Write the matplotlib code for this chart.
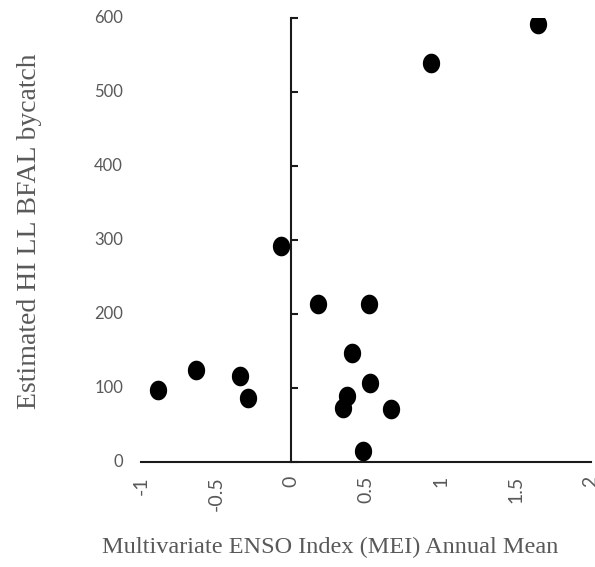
import matplotlib
matplotlib.use("Agg")
import matplotlib.pyplot as plt
import numpy as np
from matplotlib.path import Path

# MEI annual mean vs estimated bycatch
mei = [-0.885, -0.633, -0.338, -0.285, -0.069, 0.182, 0.52, 0.405,
       0.371, 0.349, 0.527, 0.665, 0.482, 0.933, 1.649]
bycatch = [97, 124, 116, 86, 292, 214, 213, 147,
           90, 73, 107, 72, 15, 539, 592]

x_ticks = [-1, -0.5, 0, 0.5, 1, 1.5, 2]
x_tick_labels = ["-1", "-0.5", "0", "0.5", "1", "1.5", "2"]
y_ticks = [0, 100, 200, 300, 400, 500, 600]

text_grey = "#595959"
serif = ["Liberation Serif", "DejaVu Serif"]
sans = ["Lato", "DejaVu Sans"]

# slightly tall ellipse like the Excel marker
t = np.linspace(0, 2 * np.pi, 60)
ellipse = Path(np.column_stack([0.88 * np.cos(t), np.sin(t)]))

fig = plt.figure(figsize=(5.95, 5.67), dpi=100)
ax = fig.add_axes([0.237, 0.185, 0.756, 0.783])

ax.scatter(mei, bycatch, s=200, marker=ellipse, color="black", linewidths=0, zorder=3)

ax.set_xlim(-1, 2)
ax.set_ylim(0, 600)

for side in ["top", "right"]:
    ax.spines[side].set_visible(False)
ax.spines["left"].set_position(("data", 0))
ax.spines["left"].set_linewidth(1.5)
ax.spines["bottom"].set_linewidth(1.5)
ax.spines["left"].set_color("#1a1a1a")
ax.spines["bottom"].set_color("#1a1a1a")

ax.set_xticks(x_ticks)
ax.set_xticklabels(x_tick_labels, rotation=90, va="top", family=sans)
ax.tick_params(axis="x", length=0, pad=10, labelsize=14, labelcolor=text_grey)

ax.set_yticks(y_ticks)
ax.tick_params(axis="y", direction="in", length=5, width=1.5, color="#1a1a1a", labelleft=False)
for v in y_ticks:
    ax.text(-0.04, v, str(v), transform=ax.get_yaxis_transform(), ha="right", va="center",
            fontsize=12, color=text_grey, family=sans)

fig.text(0.555, 0.034, "Multivariate ENSO Index (MEI) Annual Mean", ha="center", va="center",
         fontsize=17.5, color=text_grey, family=serif)
fig.text(0.05, 0.592, "Estimated HI LL BFAL bycatch", ha="center", va="center", rotation=90,
         fontsize=20, color=text_grey, family=serif)

fig.savefig("out.png", dpi=100)
